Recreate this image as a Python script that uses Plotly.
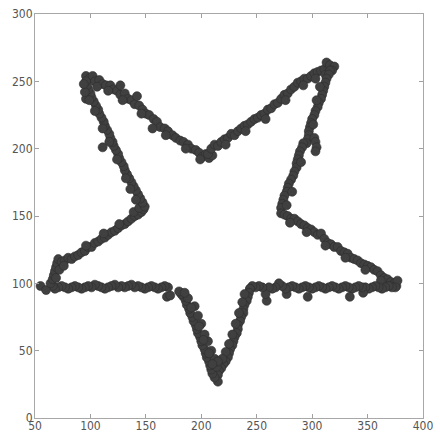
import plotly.graph_objects as go

# Scattered sample points outlining a five-pointed star, grouped by edge (x, y)
edge_top_left = [(96,254),(99,252),(102,254),(104,250),(108,251),(111,248),(114,247),(118,247),
    (121,244),(124,243),(127,240),(131,241),(134,237),(137,236),(140,233),(144,232),(147,229),
    (150,226),(153,225),(157,222),(160,220),(163,216),(167,215),(170,213),(174,210),(177,208),
    (181,206),(184,205),(188,203),(191,200),(195,199),(198,197),(201,194),(204,196),(207,193),
    (210,195),(127,247),(142,239),(156,215),(106,246),(116,243),(129,236),(146,226),(168,210),
    (186,200),(199,192)]
edge_top_right = [(206,196),(209,200),(212,203),(215,202),(218,205),(221,207),(224,208),(227,211),
    (230,210),(233,213),(236,215),(239,217),(242,218),(245,220),(248,222),(251,223),(254,225),
    (257,226),(260,229),(263,230),(266,233),(269,234),(272,237),(275,240),(278,241),(281,244),
    (284,246),(287,249),(290,250),(293,252),(296,252),(299,254),(302,256),(305,257),(308,258),
    (311,259),(313,264),(316,262),(320,261),(318,258),(222,203),(240,213),(258,222),(276,236),
    (292,247),(303,252),(312,255)]
edge_right_upper = [(316,258),(315,255),(313,252),(312,249),(311,246),(310,243),(309,240),(308,237),
    (306,234),(305,231),(303,228),(302,225),(300,222),(299,219),(298,216),(297,213),(297,210),
    (296,207),(295,204),(292,204),(291,201),(289,198),(288,195),(287,192),(286,189),(286,186),
    (284,183),(283,180),(281,177),(279,174),(278,171),(277,168),(275,165),(274,162),(273,159),
    (272,156),(302,208),(303,205),(304,201),(303,198),(307,246),(304,236),(301,218),(290,190),
    (282,168),(277,158)]
edge_right_lower = [(272,152),(275,151),(278,150),(281,148),(284,148),(287,146),(290,144),(293,143),
    (296,141),(299,140),(302,138),(305,136),(308,137),(311,133),(314,130),(317,129),(320,127),
    (323,127),(326,124),(329,123),(332,122),(335,119),(338,118),(341,117),(344,115),(347,114),
    (350,113),(353,112),(356,110),(359,109),(362,106),(365,104),(368,103),(371,101),(374,100),
    (376,98),(377,102),(280,145),(295,138),(312,128),(330,119),(348,110),(362,102),(370,98)]
edge_base_right = [(375,97),(372,97),(369,98),(366,97),(363,96),(360,97),(357,98),(354,97),(351,96),
    (348,97),(346,93),(345,97),(342,98),(339,97),(336,96),(334,90),(333,97),(330,98),(327,97),
    (324,96),(321,97),(318,98),(315,97),(312,96),(309,97),(306,98),(303,97),(300,96),(296,90),
    (297,97),(294,98),(291,97),(288,96),(285,97),(282,98),(279,97),(277,92),(276,96),(273,98),
    (270,100),(267,97),(264,96),(261,97),(259,87),(258,92),(255,97),(252,98),(249,97),(246,98),
    (244,96)]
edge_bottom_right = [(244,96),(243,93),(242,90),(241,87),(239,84),(238,81),(238,78),(236,75),(235,72),
    (233,69),(233,66),(232,63),(230,60),(229,57),(228,54),(226,51),(225,48),(224,45),(222,42),
    (220,40),(218,37),(216,35),(215,32),(215,27),(239,92),(237,86),(234,78),(231,70),(228,62),
    (225,55),(222,49),(219,44)]
edge_bottom_left = [(212,30),(210,33),(209,36),(208,39),(207,42),(205,45),(204,48),(203,51),(201,54),
    (200,57),(199,60),(197,63),(196,66),(195,69),(193,72),(192,75),(190,78),(189,81),(187,84),
    (186,87),(184,90),(182,92),(180,94),(214,38),(212,44),(209,50),(206,57),(203,62),(200,70),
    (197,76),(194,83),(169,90),(172,91),(215,42),(210,40),(207,48),(202,58),(198,68),(191,82),
    (188,89),(185,93)]
edge_base_left = [(170,97),(167,98),(164,97),(161,96),(158,97),(155,98),(152,97),(149,96),(146,97),
    (143,98),(140,97),(137,99),(134,98),(131,97),(128,98),(125,97),(122,99),(119,98),(116,97),
    (113,96),(110,97),(107,98),(104,99),(101,97),(98,98),(95,97),(92,96),(89,97),(86,98),(83,97),
    (80,96),(77,97),(74,98),(71,97),(68,96),(66,98),(55,98),(60,95)]
edge_left_lower = [(64,100),(66,103),(67,106),(68,109),(69,112),(70,115),(71,118),(74,116),(77,117),
    (80,119),(83,118),(86,120),(89,121),(92,123),(95,124),(98,127),(101,127),(104,130),(107,131),
    (110,133),(113,134),(116,136),(119,138),(122,139),(125,141),(128,143),(131,144),(134,146),
    (137,148),(140,150),(143,151),(146,153),(148,155),(69,104),(72,110),(76,113),(96,128),
    (112,137),(126,144),(139,153),(144,156)]
edge_left_upper = [(149,157),(147,160),(145,163),(143,166),(141,169),(139,172),(137,175),(135,178),
    (133,181),(131,184),(130,187),(128,190),(126,193),(125,196),(123,199),(121,202),(120,205),
    (118,208),(117,211),(115,214),(113,217),(112,220),(110,223),(108,226),(107,229),(105,232),
    (103,235),(101,238),(100,241),(98,244),(97,247),(96,250),(111,201),(96,237),(95,242),
    (141,162),(136,170),(132,178),(124,192),(117,205),(111,215),(104,228),(99,236),(94,248)]

x_ticks = [50, 100, 150, 200, 250, 300, 350, 400]
y_ticks = [0, 50, 100, 150, 200, 250, 300]

edges = [edge_top_left, edge_top_right, edge_right_upper, edge_right_lower, edge_base_right,
         edge_bottom_right, edge_bottom_left, edge_base_left, edge_left_lower, edge_left_upper]
xs = [p[0] for e in edges for p in e]
ys = [p[1] for e in edges for p in e]

fig = go.Figure(go.Scatter(
    x=xs, y=ys, mode="markers",
    marker=dict(size=9, color="#404040", line=dict(width=0.6, color="#2e2e2e")),
    hoverinfo="skip",
))

axis_common = dict(
    showgrid=False, zeroline=False, showline=True, linecolor="#a8a8a8", linewidth=1,
    mirror="ticks", ticks="inside", ticklen=4, tickcolor="#a0a0a0",
    tickfont=dict(family="Liberation Sans Narrow, DejaVu Sans Condensed, Arial Narrow, sans-serif",
                  size=12, color="#555555"),
    automargin=False,
)

fig.update_layout(
    width=440, height=435,
    margin=dict(l=35, r=17, t=14, b=17),
    paper_bgcolor="white", plot_bgcolor="white",
    showlegend=False,
    xaxis=dict(range=[50, 400], tickvals=x_ticks, ticktext=[str(v) for v in x_ticks],
               ticklabelstandoff=-3, **axis_common),
    yaxis=dict(range=[0, 300], tickvals=y_ticks, ticktext=[str(v) for v in y_ticks],
               ticklabelstandoff=-1, **axis_common),
)

fig.write_html("out.html")
